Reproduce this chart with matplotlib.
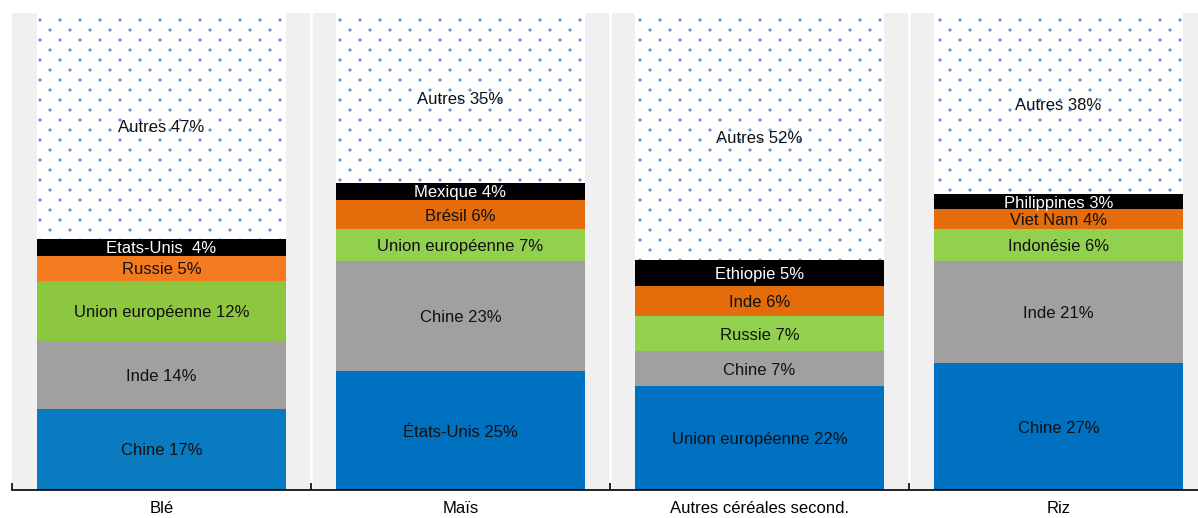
import matplotlib
matplotlib.use("Agg")
import numpy as np
from matplotlib import pyplot as plt
from matplotlib import hatch as mhatch
from matplotlib.path import Path

plt.rcParams['font.family'] = ['Liberation Sans Narrow', 'Liberation Sans', 'DejaVu Sans']
plt.rcParams['hatch.linewidth'] = 0.5

categories = ['Blé', 'Maïs', 'Autres céréales second.', 'Riz']

# shares (%) from bottom to top, one list per crop
ble = [17.0, 14.3, 12.6, 5.2, 3.6, 47.3]
mais = [24.9, 23.1, 6.7, 6.1, 3.6, 35.6]
autres_cer = [21.8, 7.3, 7.3, 6.3, 5.5, 51.8]
riz = [26.6, 21.4, 6.7, 4.2, 3.1, 38.0]

ble_labels = ['Chine 17%', 'Inde 14%', 'Union européenne 12%', 'Russie 5%', 'Etats-Unis  4%', 'Autres 47%']
mais_labels = ['États-Unis 25%', 'Chine 23%', 'Union européenne 7%', 'Brésil 6%', 'Mexique 4%', 'Autres 35%']
autres_cer_labels = ['Union européenne 22%', 'Chine 7%', 'Russie 7%', 'Inde 6%', 'Ethiopie 5%', 'Autres 52%']
riz_labels = ['Chine 27%', 'Inde 21%', 'Indonésie 6%', 'Viet Nam 4%', 'Philippines 3%', 'Autres 38%']

shares = [ble, mais, autres_cer, riz]
labels = [ble_labels, mais_labels, autres_cer_labels, riz_labels]

colors_ble = ['#0a7bc1', '#a0a0a0', '#8dc63f', '#f47b20', '#000000']
colors_other = ['#0070c0', '#a0a0a0', '#92d050', '#e46c0a', '#000000']
dot_color = '#5a93d8'


class SparseDots(mhatch.HatchPatternBase):
    # staggered dots: 5 per inch across, 10 rows per inch
    def __init__(self, hatch, density):
        self.circle = Path.unit_circle()
        self.pts = []
        if hatch.count('.') > 0:
            rows, cols = 10, 5
            for r in range(rows + 1):
                if r % 2 == 0:
                    xs = np.arange(cols + 1) / cols
                else:
                    xs = (np.arange(cols) + 0.5) / cols
                self.pts += [(xx, r / rows) for xx in xs]
        self.num_vertices = len(self.pts) * len(self.circle.vertices)

    def set_vertices_and_codes(self, vertices, codes):
        nv = len(self.circle.vertices)
        cv = self.circle.vertices * 0.012
        for k, (px, py) in enumerate(self.pts):
            vertices[k * nv:(k + 1) * nv] = cv + (px, py)
            codes[k * nv:(k + 1) * nv] = self.circle.codes


mhatch._hatch_types = [t for t in mhatch._hatch_types
                       if t is not mhatch.SmallFilledCircles] + [SparseDots]

fig = plt.figure(figsize=(11.98, 5.18), dpi=100)
ax = fig.add_axes([12 / 1198, 28 / 518, 1 - 12 / 1198, (490 - 13) / 518])

n = len(categories)
x = np.arange(n)
width = 0.836

# panel backgrounds
for i in x:
    ax.axvspan(i - 0.5, i + 0.5, color='#f0f0f0', lw=0, zorder=0)
for b in x[1:] - 0.5:
    ax.axvline(b, color='white', lw=2, zorder=0.5)

for i in x:
    vals = shares[i]
    cols = colors_ble if i == 0 else colors_other
    bottom = 0
    for k, v in enumerate(vals):
        if k < len(vals) - 1:
            ax.bar(i, v, width, bottom=bottom, color=cols[k], lw=0, zorder=2)
            tc = 'white' if cols[k] == '#000000' else '#111111'
        else:
            ax.bar(i, v, width, bottom=bottom, facecolor='white', edgecolor=dot_color,
                   hatch='.', lw=0, zorder=2)
            tc = '#111111'
        ax.text(i, bottom + v / 2, labels[i][k], ha='center', va='center_baseline',
                fontsize=12, color=tc, zorder=3)
        bottom += v

ax.set_xlim(-0.5, -0.5 + (1198 - 12) / 299)
ax.set_ylim(0, 100)

ax.set_xticks(x)
ax.set_xticklabels(categories, fontsize=12)
ax.tick_params(axis='x', which='major', length=0, pad=8)
ax.set_xticks(np.arange(-0.5, 3.5, 1.0), minor=True)
ax.tick_params(axis='x', which='minor', direction='in', length=5, width=1.2, color='black')
ax.set_yticks([])

for s in ['top', 'right', 'left']:
    ax.spines[s].set_visible(False)
ax.spines['bottom'].set_linewidth(1.2)
ax.spines['bottom'].set_zorder(4)

fig.savefig('out.png', dpi=100)
